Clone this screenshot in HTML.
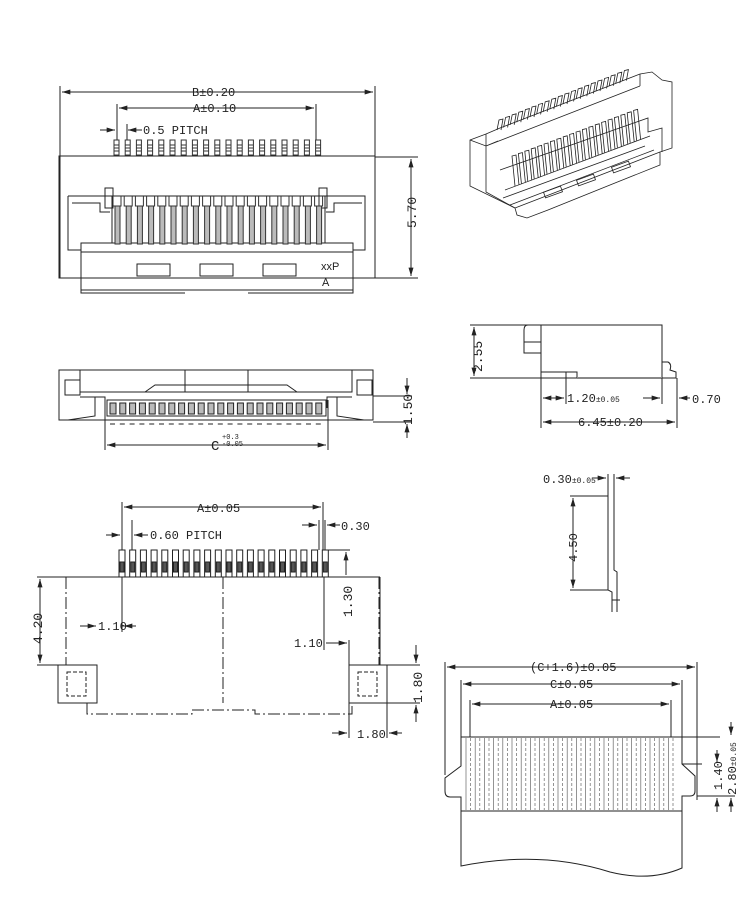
<!DOCTYPE html>
<html><head><meta charset="utf-8"><style>
html,body{margin:0;padding:0;background:#fff}
svg{display:block}
text{font-family:"Liberation Mono",monospace;font-size:12px;fill:#222}
</style></head><body>
<svg width="750" height="900" viewBox="0 0 750 900" xmlns="http://www.w3.org/2000/svg">
<defs>
<marker id="a" viewBox="0 0 10 6" refX="10" refY="3" markerWidth="9" markerHeight="5" orient="auto-start-reverse"><path d="M0,0L10,3L0,6z" fill="#222"/></marker>
</defs>
<g stroke="#222" stroke-width="1" fill="none">
<line x1="60" y1="86" x2="60" y2="278"/><line x1="375" y1="86" x2="375" y2="278"/>
<line x1="62" y1="92" x2="373" y2="92" marker-start="url(#a)" marker-end="url(#a)"/>
<line x1="117" y1="104" x2="117" y2="140"/><line x1="316" y1="104" x2="316" y2="140"/>
<line x1="119" y1="108" x2="314" y2="108" marker-start="url(#a)" marker-end="url(#a)"/>
<line x1="100" y1="130" x2="115" y2="130" marker-end="url(#a)"/><line x1="142" y1="130" x2="128" y2="130" marker-end="url(#a)"/>
<line x1="127" y1="124" x2="127" y2="140"/>
<rect x="59" y="156" width="316" height="122"/>
<line x1="375" y1="157" x2="418" y2="157"/><line x1="375" y1="278" x2="418" y2="278"/>
<line x1="411" y1="159" x2="411" y2="276" marker-start="url(#a)" marker-end="url(#a)"/>
<path d="M68,196H365V250H353M68,196V250H81"/>
<path d="M72,203H100V212H110M362,203H334V212H326"/>
<rect x="105" y="188" width="8" height="20"/><rect x="319" y="188" width="8" height="20"/>
<rect x="112" y="196" width="213" height="47"/>
<rect x="81" y="243" width="272" height="47"/>
<line x1="81" y1="252" x2="353" y2="252"/>
<path d="M81,290V293H185M248,293H353V290"/>
<rect x="137" y="264" width="33" height="12"/><rect x="200" y="264" width="33" height="12"/><rect x="263" y="264" width="33" height="12"/>
</g>
<g stroke="#333" stroke-width="1" fill="none" id="pins1"></g>
<g fill="#222" font-size="11">
<text x="192" y="96" style="font-size:12px">B±0.20</text>
<text x="193" y="112">A±0.10</text>
<text x="143" y="134">0.5  PITCH</text>
<text x="321" y="270" style="font-family:'Liberation Sans';font-size:11px">xxP</text>
<text x="322" y="286" style="font-family:'Liberation Sans';font-size:11px">A</text>
<text transform="translate(416,228) rotate(-90)" style="font-size:13px">5.70</text>
</g>
<g stroke="#222" stroke-width="1" fill="none">
<rect x="59" y="370" width="314" height="50"/>
<path d="M80,370V392H352V370M185,370V392M248,370V392"/>
<path d="M65,380H80V395H65zM357,380H372V395H357z"/>
<path d="M145,392L155,385H287L297,392"/>
<path d="M80,397H105V408M352,397H327V408M68,420L95,416V397M364,420L337,416V397"/>
<rect x="107" y="400" width="219" height="16"/>
<line x1="105" y1="400" x2="105" y2="450"/><line x1="328" y1="400" x2="328" y2="450"/>
<line x1="107" y1="445" x2="326" y2="445" marker-start="url(#a)" marker-end="url(#a)"/>
<line x1="373" y1="396" x2="412" y2="396"/><line x1="373" y1="422" x2="412" y2="422"/>
<line x1="407" y1="378" x2="407" y2="394" marker-end="url(#a)"/><line x1="407" y1="438" x2="407" y2="424" marker-end="url(#a)"/>
</g>
<g id="pins2" stroke="#222" fill="none"></g>
<text x="211" y="450" style="font-size:14px">C</text>
<text x="222" y="439" style="font-size:7px">+0.3</text>
<text x="222" y="446" style="font-size:7px">-0.05</text>
<text transform="translate(412,425) rotate(-90)" style="font-size:13px">1.50</text>
<g stroke="#222" stroke-width="1" fill="none">
<rect x="541" y="325" width="121" height="53"/>
<path d="M541,325H528Q524,325 524,330V353H541M524,342H541"/>
<path d="M541,372H577V378M566,372V378"/>
<line x1="577" y1="378" x2="662" y2="378" stroke="#888" stroke-width="2"/>
<path d="M662,362H668Q672,364 670,370L676,372V378H662"/>
<line x1="470" y1="325" x2="541" y2="325"/><line x1="470" y1="378" x2="541" y2="378"/>
<line x1="474" y1="327" x2="474" y2="376" marker-start="url(#a)" marker-end="url(#a)"/>
<line x1="541" y1="378" x2="541" y2="428"/><line x1="566" y1="378" x2="566" y2="404"/>
<line x1="662" y1="378" x2="662" y2="404"/><line x1="677" y1="378" x2="677" y2="428"/>
<line x1="543" y1="398" x2="564" y2="398" marker-end="url(#a)" marker-start="url(#a)"/>
<line x1="643" y1="398" x2="660" y2="398" marker-end="url(#a)"/><line x1="690" y1="398" x2="679" y2="398" marker-end="url(#a)"/>
<line x1="543" y1="422" x2="675" y2="422" marker-start="url(#a)" marker-end="url(#a)"/>
</g>
<text transform="translate(482,372) rotate(-90)" style="font-size:13px">2.55</text>
<text x="567" y="402">1.20<tspan style="font-size:8px">±0.05</tspan></text>
<text x="692" y="403">0.70</text>
<text x="578" y="426">6.45±0.20</text>
<g stroke="#222" stroke-width="0.8" fill="none">
<path d="M470,140L486,134L500,128L640,74L652,72L662,80L672,82V148L660,152V165L610,185L548,210L527,218L517,215L515,208L470,186Z"/>
<path d="M486,134V192L515,208M470,140L486,146L498,141M486,146L640,86M640,86V74"/>
<path d="M500,170L648,118V132L662,128V152"/>
<path d="M505,190L650,136M515,208L660,152"/>
<path d="M503,198L645,146M510,205L654,150"/>
<rect x="544" y="189" width="18" height="6" transform="rotate(-20 553 192)"/>
<rect x="577" y="177" width="18" height="6" transform="rotate(-20 586 180)"/>
<rect x="612" y="164" width="18" height="6" transform="rotate(-20 621 167)"/>
</g>
<g id="pins3d" stroke="#222" stroke-width="0.8" fill="none"></g>
<g stroke="#222" stroke-width="1" fill="none">
<path d="M608,478V590L612,592V612M614,478V570L617,572V612"/>
<line x1="608" y1="474" x2="608" y2="486"/><line x1="614" y1="474" x2="614" y2="486"/>
<line x1="592" y1="478" x2="606" y2="478" marker-end="url(#a)"/><line x1="630" y1="478" x2="616" y2="478" marker-end="url(#a)"/>
<line x1="570" y1="496" x2="608" y2="496"/><line x1="570" y1="590" x2="608" y2="590"/>
<line x1="573" y1="498" x2="573" y2="588" marker-start="url(#a)" marker-end="url(#a)"/>
<line x1="612" y1="600" x2="620" y2="600"/>
</g>
<text x="543" y="483">0.30<tspan style="font-size:8px">±0.05</tspan></text>
<text transform="translate(577,562) rotate(-90)" style="font-size:12px">4.50</text>
<g stroke="#222" stroke-width="1" fill="none">
<line x1="37" y1="577" x2="380" y2="577"/>
<line x1="380" y1="577" x2="380" y2="665"/>
<g stroke-dasharray="12,3,2,3">
<line x1="66" y1="577" x2="66" y2="665"/>
<line x1="379" y1="577" x2="379" y2="665"/>
<path d="M87,703V714H192V710H255V714H352V703"/>
<line x1="223" y1="577" x2="223" y2="703"/>
</g>
<rect x="58" y="665" width="39" height="38"/><rect x="349" y="665" width="38" height="38"/>
<rect x="67" y="672" width="19" height="24" stroke-dasharray="4,2"/><rect x="358" y="672" width="19" height="24" stroke-dasharray="4,2"/>
<line x1="122" y1="502" x2="122" y2="550"/><line x1="323" y1="502" x2="323" y2="550"/>
<line x1="124" y1="507" x2="321" y2="507" marker-start="url(#a)" marker-end="url(#a)"/>
<line x1="319" y1="520" x2="319" y2="550"/><line x1="325" y1="520" x2="325" y2="550"/>
<line x1="302" y1="525" x2="317" y2="525" marker-end="url(#a)"/><line x1="340" y1="525" x2="327" y2="525" marker-end="url(#a)"/>
<line x1="132" y1="520" x2="132" y2="550"/>
<line x1="106" y1="535" x2="120" y2="535" marker-end="url(#a)"/><line x1="148" y1="535" x2="134" y2="535" marker-end="url(#a)"/>
<line x1="122" y1="577" x2="122" y2="632"/>
<line x1="80" y1="626" x2="96" y2="626" marker-end="url(#a)"/><line x1="136" y1="626" x2="124" y2="626" marker-end="url(#a)"/>
<line x1="37" y1="665" x2="58" y2="665"/>
<line x1="40" y1="579" x2="40" y2="663" marker-start="url(#a)" marker-end="url(#a)"/>
<line x1="327" y1="550" x2="350" y2="550"/>
<line x1="346" y1="552" x2="346" y2="575" marker-start="url(#a)"/>
<line x1="324" y1="577" x2="324" y2="650"/>
<line x1="349" y1="640" x2="349" y2="665"/>
<line x1="326" y1="643" x2="347" y2="643" marker-end="url(#a)"/>
<line x1="387" y1="665" x2="420" y2="665"/><line x1="387" y1="703" x2="420" y2="703"/>
<line x1="416" y1="645" x2="416" y2="663" marker-end="url(#a)"/><line x1="416" y1="722" x2="416" y2="705" marker-end="url(#a)"/>
<line x1="349" y1="703" x2="349" y2="738"/><line x1="387" y1="703" x2="387" y2="738"/>
<line x1="332" y1="733" x2="347" y2="733" marker-end="url(#a)"/><line x1="402" y1="733" x2="389" y2="733" marker-end="url(#a)"/>
</g>
<g id="pins4" stroke="#222" fill="none"></g>
<text x="197" y="512">A±0.05</text>
<text x="341" y="530">0.30</text>
<text x="150" y="539">0.60  PITCH</text>
<text transform="translate(42,644) rotate(-90)" style="font-size:13px">4.20</text>
<text x="98" y="630">1.10</text>
<text x="294" y="647">1.10</text>
<text transform="translate(352,617) rotate(-90)" style="font-size:13px">1.30</text>
<text transform="translate(422,703) rotate(-90)" style="font-size:13px">1.80</text>
<text x="357" y="738">1.80</text>
<g stroke="#222" stroke-width="1" fill="none">
<line x1="445" y1="662" x2="445" y2="775"/><line x1="697" y1="662" x2="697" y2="800"/>
<line x1="447" y1="667" x2="695" y2="667" marker-start="url(#a)" marker-end="url(#a)"/>
<line x1="461" y1="680" x2="461" y2="737"/><line x1="682" y1="680" x2="682" y2="737"/>
<line x1="463" y1="684" x2="680" y2="684" marker-start="url(#a)" marker-end="url(#a)"/>
<line x1="470" y1="700" x2="470" y2="737"/><line x1="671" y1="700" x2="671" y2="737"/>
<line x1="472" y1="704" x2="669" y2="704" marker-start="url(#a)" marker-end="url(#a)"/>
<path d="M461,737H682V764L695,776V791Q695,796 690,796H682V811H461V797H450Q445,797 445,791V778L461,766Z"/>
<path d="M461,811V866Q540,850 610,872Q650,882 682,868V811"/>
<line x1="682" y1="737" x2="720" y2="737"/><line x1="682" y1="764" x2="702" y2="764"/>
<line x1="697" y1="796" x2="735" y2="796"/>
<line x1="717" y1="750" x2="717" y2="762" marker-end="url(#a)"/><line x1="717" y1="812" x2="717" y2="798" marker-end="url(#a)"/>
<line x1="731" y1="722" x2="731" y2="735" marker-end="url(#a)"/><line x1="731" y1="812" x2="731" y2="798" marker-end="url(#a)"/>
</g>
<g id="stripes" stroke="#666" stroke-width="0.7"></g>
<text x="530" y="671">(C+1.6)±0.05</text>
<text x="550" y="688">C±0.05</text>
<text x="550" y="708">A±0.05</text>
<text transform="translate(722,790) rotate(-90)" style="font-size:12px">1.40</text>
<text transform="translate(736,795) rotate(-90)" style="font-size:12px">2.80<tspan style="font-size:8px">±0.05</tspan></text>
<script>
var NS="http://www.w3.org/2000/svg";
function el(p,t,a){var e=document.createElementNS(NS,t);for(var k in a)e.setAttribute(k,a[k]);p.appendChild(e);return e;}
var g=document.getElementById("pins1");
for(var i=0;i<19;i++){var x=114+i*11.2;el(g,"rect",{x:x,y:140,width:5,height:15});
 for(var j=0;j<3;j++)el(g,"line",{x1:x,y1:145+j*3,x2:x+5,y2:145+j*3});
 el(g,"rect",{x:x+1,y:206,width:5,height:38,fill:"#bbb"});
 el(g,"path",{d:"M"+(x-1)+",196V206H"+(x+7)+"V196"});}
var g2=document.getElementById("pins2");
for(var i=0;i<22;i++){var x=110+i*9.8;el(g2,"rect",{x:x,y:403,width:6,height:11,fill:"#bbb"});el(g2,"line",{x1:x,y1:424,x2:x+5,y2:424});}
var g4=document.getElementById("pins4");
for(var i=0;i<20;i++){var x=119+i*10.7;el(g4,"rect",{x:x,y:550,width:6,height:27});el(g4,"rect",{x:x+1,y:562,width:4,height:10,fill:"#555"});}
var g3=document.getElementById("pins3d");
for(var i=0;i<20;i++){var x=497+i*6.6,y=130-i*2.6;el(g3,"path",{d:"M"+x+","+y+"l2,-10l4,-1l-2,11"});
 var x2=515+i*6.4,y2=186-i*2.4;el(g3,"path",{d:"M"+x2+","+y2+"l-3,-30l4,-1l3,30"});}
var s=document.getElementById("stripes");
for(var i=0;i<46;i++){var x=466+i*4.6;el(s,"line",{x1:x,y1:738,x2:x,y2:810,"stroke-dasharray":(i%2?"3,2":"")});}
</script>
</svg>
</body></html>
